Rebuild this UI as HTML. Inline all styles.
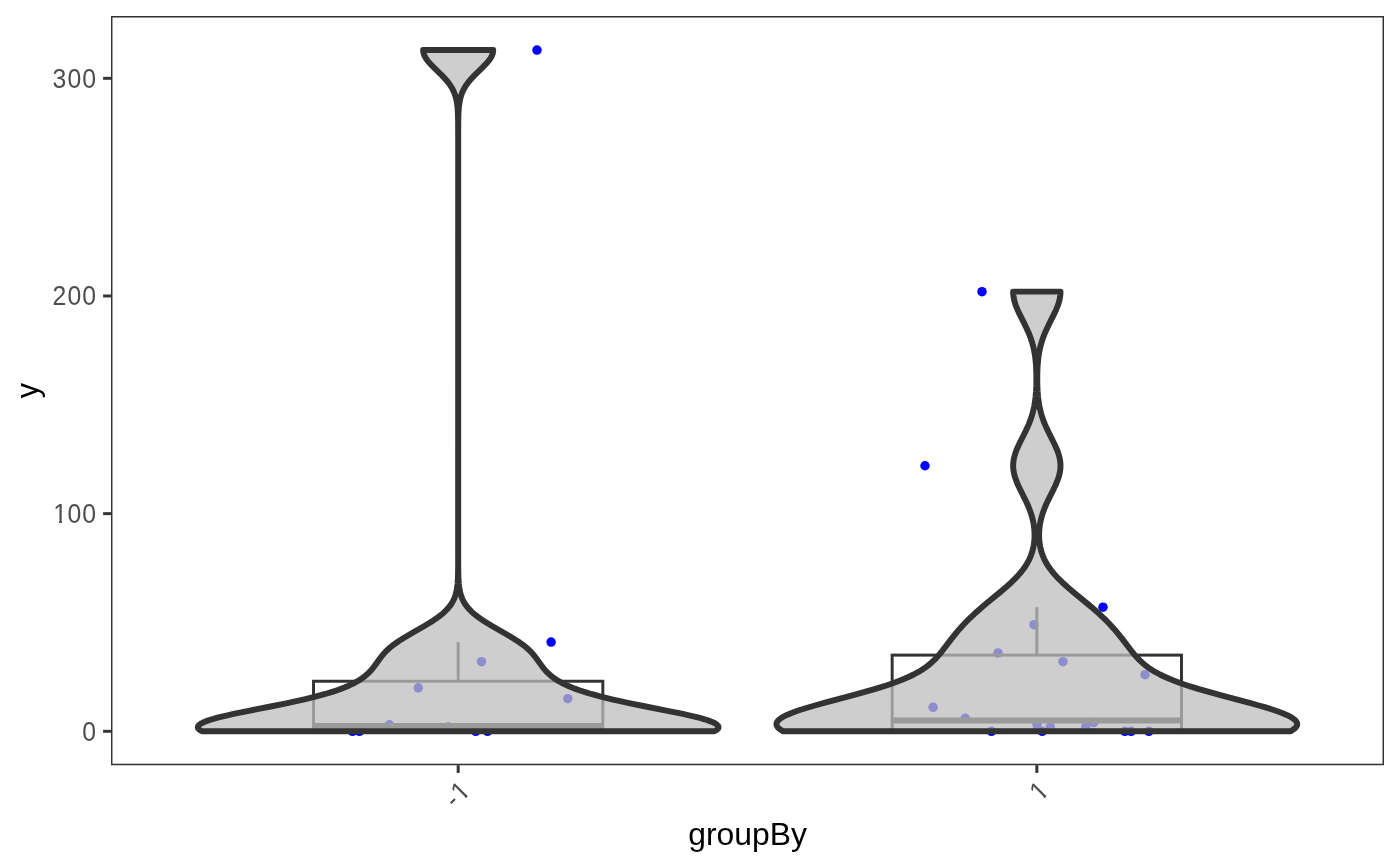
<!DOCTYPE html>
<html><head><meta charset="utf-8"><title>Violin plot: y by groupBy</title>
<style>
html,body{margin:0;padding:0;background:#ffffff;}
body{width:1400px;height:866px;position:relative;overflow:hidden;font-family:"Liberation Sans",sans-serif;}
</style></head><body>
<svg width="1400" height="866" viewBox="0 0 1400 866" style="position:absolute;left:0;top:0;will-change:transform">
<defs><clipPath id="cy100"><path d="M-200,-60 H400 V-2.45 H-200 Z M5.99,-3.45 H8.68 V4 H5.99 Z M14.00,-60 H200.00 V20 H14.00 Z "/></clipPath><clipPath id="cx1"><path d="M-200,-60 H400 V-2.45 H-200 Z M-7.01,-3.45 H-4.31 V4 H-7.01 Z M-100.00,-60 H-13.49 V20 H-100.00 Z "/></clipPath><clipPath id="cx2"><path d="M-200,-60 H400 V-2.45 H-200 Z M-7.01,-3.45 H-4.31 V4 H-7.01 Z M-100.00,-60 H-13.49 V20 H-100.00 Z "/></clipPath></defs>
<defs><clipPath id="pc"><rect x="111.00" y="16.05" width="1273.00" height="749.15"/></clipPath></defs>
<g clip-path="url(#pc)">
<circle cx="537.0" cy="50.02" r="4.75" fill="#0000ff"/>
<circle cx="551.1" cy="642.06" r="4.75" fill="#0000ff"/>
<circle cx="481.5" cy="661.65" r="4.75" fill="#0000ff"/>
<circle cx="418.3" cy="687.77" r="4.75" fill="#0000ff"/>
<circle cx="567.8" cy="698.65" r="4.75" fill="#0000ff"/>
<circle cx="389.4" cy="724.77" r="4.75" fill="#0000ff"/>
<circle cx="448.5" cy="726.95" r="4.75" fill="#0000ff"/>
<circle cx="352.5" cy="731.30" r="4.75" fill="#0000ff"/>
<circle cx="359.4" cy="731.30" r="4.75" fill="#0000ff"/>
<circle cx="475.7" cy="731.30" r="4.75" fill="#0000ff"/>
<circle cx="487.5" cy="731.30" r="4.75" fill="#0000ff"/>
<circle cx="982.0" cy="291.63" r="4.75" fill="#0000ff"/>
<circle cx="925.0" cy="465.75" r="4.75" fill="#0000ff"/>
<circle cx="1103.0" cy="607.23" r="4.75" fill="#0000ff"/>
<circle cx="1034.0" cy="624.65" r="4.75" fill="#0000ff"/>
<circle cx="998.0" cy="652.94" r="4.75" fill="#0000ff"/>
<circle cx="1063.0" cy="661.65" r="4.75" fill="#0000ff"/>
<circle cx="1145.0" cy="674.71" r="4.75" fill="#0000ff"/>
<circle cx="933.1" cy="707.36" r="4.75" fill="#0000ff"/>
<circle cx="965.3" cy="718.24" r="4.75" fill="#0000ff"/>
<circle cx="1037.0" cy="724.77" r="4.75" fill="#0000ff"/>
<circle cx="1050.3" cy="726.95" r="4.75" fill="#0000ff"/>
<circle cx="1085.7" cy="726.95" r="4.75" fill="#0000ff"/>
<circle cx="1093.6" cy="722.59" r="4.75" fill="#0000ff"/>
<circle cx="991.4" cy="731.30" r="4.75" fill="#0000ff"/>
<circle cx="1042.2" cy="731.30" r="4.75" fill="#0000ff"/>
<circle cx="1124.9" cy="731.30" r="4.75" fill="#0000ff"/>
<circle cx="1131.1" cy="731.30" r="4.75" fill="#0000ff"/>
<circle cx="1148.9" cy="731.30" r="4.75" fill="#0000ff"/>
<line x1="458.18" y1="681.24" x2="458.18" y2="642.06" stroke="#333333" stroke-width="2.96"/>
<line x1="458.18" y1="731.30" x2="458.18" y2="731.30" stroke="#333333" stroke-width="2.96"/>
<rect x="313.52" y="681.24" width="289.32" height="50.06" fill="none" stroke="#333333" stroke-width="2.96" stroke-linejoin="miter"/>
<line x1="313.52" y1="725.86" x2="602.84" y2="725.86" stroke="#333333" stroke-width="5.92"/>
<line x1="1036.82" y1="655.12" x2="1036.82" y2="607.23" stroke="#333333" stroke-width="2.96"/>
<line x1="1036.82" y1="730.21" x2="1036.82" y2="731.30" stroke="#333333" stroke-width="2.96"/>
<rect x="892.16" y="655.12" width="289.32" height="75.09" fill="none" stroke="#333333" stroke-width="2.96" stroke-linejoin="miter"/>
<line x1="892.16" y1="720.42" x2="1181.48" y2="720.42" stroke="#333333" stroke-width="5.92"/>
<path d="M201.94,731.30 L199.67,729.97 L198.29,728.63 L197.80,727.30 L198.17,725.97 L199.39,724.63 L201.42,723.30 L204.20,721.97 L207.70,720.63 L211.83,719.30 L216.55,717.97 L221.77,716.63 L227.43,715.30 L233.44,713.97 L246.26,711.30 L273.10,705.97 L286.18,703.30 L298.57,700.64 L304.42,699.30 L315.36,696.64 L325.19,693.97 L329.68,692.64 L333.89,691.30 L337.82,689.97 L341.49,688.64 L344.90,687.30 L348.06,685.97 L350.99,684.64 L353.69,683.30 L356.19,681.97 L358.49,680.64 L360.60,679.30 L362.55,677.97 L364.33,676.64 L365.98,675.30 L368.88,672.64 L371.37,669.97 L373.55,667.31 L375.53,664.64 L380.28,657.97 L382.37,655.31 L383.51,653.97 L385.99,651.31 L387.35,649.97 L390.35,647.31 L391.99,645.97 L393.72,644.64 L397.45,641.97 L399.45,640.64 L403.66,637.97 L410.41,633.97 L424.38,625.98 L428.84,623.31 L433.05,620.64 L436.96,617.98 L438.79,616.64 L442.15,613.98 L443.69,612.64 L445.13,611.31 L447.71,608.64 L448.86,607.31 L450.87,604.64 L451.75,603.31 L453.26,600.64 L454.47,597.98 L455.43,595.31 L456.17,592.65 L456.74,589.98 L457.16,587.31 L457.59,583.31 L457.85,579.31 L458.01,575.31 L458.15,564.65 L458.18,138.02 L458.09,120.68 L457.97,115.35 L457.79,111.35 L457.49,107.35 L457.20,104.69 L456.55,100.69 L455.95,98.02 L455.18,95.35 L454.20,92.69 L453.00,90.02 L452.31,88.69 L450.73,86.02 L449.85,84.69 L447.88,82.02 L445.65,79.36 L441.91,75.36 L433.72,67.36 L431.09,64.69 L428.69,62.02 L427.60,60.69 L426.61,59.36 L425.73,58.02 L424.96,56.69 L424.32,55.36 L423.81,54.02 L423.45,52.69 L423.23,51.36 L423.15,50.02 L493.21,50.02 L493.14,51.36 L492.92,52.69 L492.55,54.02 L492.04,55.36 L491.40,56.69 L490.63,58.02 L489.75,59.36 L488.76,60.69 L487.68,62.02 L485.27,64.69 L482.65,67.36 L474.45,75.36 L470.71,79.36 L468.49,82.02 L466.52,84.69 L465.63,86.02 L464.05,88.69 L463.36,90.02 L462.16,92.69 L461.19,95.35 L460.42,98.02 L459.81,100.69 L459.17,104.69 L458.87,107.35 L458.57,111.35 L458.40,115.35 L458.27,120.68 L458.19,138.02 L458.21,564.65 L458.36,575.31 L458.51,579.31 L458.77,583.31 L459.20,587.31 L459.63,589.98 L460.19,592.65 L460.94,595.31 L461.90,597.98 L463.11,600.64 L464.61,603.31 L465.49,604.64 L467.50,607.31 L468.65,608.64 L471.23,611.31 L472.67,612.64 L474.21,613.98 L477.58,616.64 L479.40,617.98 L483.31,620.64 L487.53,623.31 L491.98,625.98 L505.95,633.97 L512.70,637.97 L516.92,640.64 L518.91,641.97 L522.64,644.64 L524.38,645.97 L526.01,647.31 L529.01,649.97 L530.37,651.31 L532.86,653.97 L533.99,655.31 L536.08,657.97 L540.84,664.64 L542.81,667.31 L544.99,669.97 L547.48,672.64 L550.39,675.30 L552.03,676.64 L553.82,677.97 L555.76,679.30 L557.88,680.64 L560.17,681.97 L562.67,683.30 L565.37,684.64 L568.30,685.97 L571.46,687.30 L574.87,688.64 L578.54,689.97 L582.47,691.30 L586.68,692.64 L591.17,693.97 L601.00,696.64 L611.94,699.30 L617.79,700.64 L630.18,703.30 L643.26,705.97 L670.10,711.30 L682.92,713.97 L688.94,715.30 L694.59,716.63 L699.81,717.97 L704.53,719.30 L708.67,720.63 L712.16,721.97 L714.95,723.30 L716.97,724.63 L718.19,725.97 L718.57,727.30 L718.07,728.63 L716.69,729.97 L714.42,731.30 Z" fill="#bebebe" fill-opacity="0.75" stroke="#333333" stroke-width="5.93" stroke-linejoin="round"/>
<path d="M783.27,731.30 L781.72,730.44 L780.37,729.58 L779.22,728.72 L778.26,727.86 L777.51,727.00 L776.95,726.14 L776.59,725.28 L776.43,724.42 L776.47,723.56 L776.70,722.70 L777.12,721.84 L777.73,720.97 L778.53,720.11 L779.51,719.25 L780.66,718.39 L781.98,717.53 L783.47,716.67 L786.92,714.95 L790.96,713.23 L795.53,711.51 L800.56,709.79 L808.86,707.21 L814.79,705.49 L824.11,702.91 L853.20,695.16 L865.71,691.72 L874.61,689.14 L880.25,687.42 L885.64,685.70 L890.75,683.98 L895.57,682.26 L900.10,680.54 L904.33,678.81 L910.14,676.23 L913.65,674.51 L918.42,671.93 L921.29,670.21 L925.17,667.63 L928.60,665.05 L931.64,662.47 L934.37,659.89 L937.61,656.44 L939.83,653.86 L941.93,651.28 L951.80,638.37 L956.65,632.35 L959.60,628.91 L962.70,625.47 L965.97,622.03 L968.54,619.45 L973.96,614.28 L980.74,608.26 L986.87,603.10 L1000.46,591.91 L1006.50,586.75 L1011.24,582.45 L1015.62,578.15 L1018.05,575.56 L1019.57,573.84 L1021.71,571.26 L1023.04,569.54 L1024.29,567.82 L1026.01,565.24 L1027.06,563.52 L1028.48,560.94 L1029.34,559.22 L1030.48,556.64 L1031.15,554.91 L1032.03,552.33 L1032.54,550.61 L1033.18,548.03 L1033.54,546.31 L1033.97,543.73 L1034.42,539.43 L1034.54,536.85 L1034.56,534.26 L1034.36,529.96 L1034.10,527.38 L1033.75,524.80 L1033.12,521.36 L1032.08,517.06 L1030.76,512.75 L1029.18,508.45 L1027.74,505.01 L1026.17,501.57 L1020.18,489.52 L1018.13,485.22 L1016.65,481.78 L1015.37,478.34 L1014.34,474.90 L1013.61,471.45 L1013.37,469.73 L1013.21,468.01 L1013.14,466.29 L1013.16,464.57 L1013.35,461.99 L1013.58,460.27 L1013.90,458.55 L1014.76,455.11 L1015.90,451.66 L1017.28,448.22 L1018.83,444.78 L1025.68,431.01 L1027.29,427.57 L1028.79,424.13 L1030.16,420.69 L1031.37,417.25 L1032.43,413.81 L1033.33,410.36 L1034.25,406.06 L1034.97,401.76 L1035.60,396.60 L1036.02,391.44 L1036.30,385.41 L1036.40,379.39 L1036.34,373.37 L1036.10,367.34 L1035.88,363.90 L1035.57,360.46 L1035.17,357.02 L1034.65,353.58 L1034.02,350.14 L1033.46,347.55 L1032.81,344.97 L1032.08,342.39 L1031.26,339.81 L1030.36,337.23 L1029.37,334.65 L1027.92,331.21 L1025.10,325.18 L1019.08,313.14 L1017.51,309.70 L1016.10,306.25 L1015.19,303.67 L1014.66,301.95 L1013.83,298.51 L1013.53,296.79 L1013.31,295.07 L1013.18,293.35 L1013.14,291.63 L1060.50,291.63 L1060.45,293.35 L1060.32,295.07 L1060.11,296.79 L1059.81,298.51 L1058.97,301.95 L1058.45,303.67 L1057.53,306.25 L1056.13,309.70 L1054.55,313.14 L1048.54,325.18 L1045.72,331.21 L1044.27,334.65 L1043.28,337.23 L1042.37,339.81 L1041.55,342.39 L1040.82,344.97 L1040.18,347.55 L1039.61,350.14 L1038.98,353.58 L1038.47,357.02 L1038.07,360.46 L1037.76,363.90 L1037.53,367.34 L1037.30,373.37 L1037.24,379.39 L1037.34,385.41 L1037.62,391.44 L1038.04,396.60 L1038.66,401.76 L1039.38,406.06 L1040.31,410.36 L1041.21,413.81 L1042.27,417.25 L1043.48,420.69 L1044.84,424.13 L1046.34,427.57 L1047.96,431.01 L1054.81,444.78 L1056.36,448.22 L1057.74,451.66 L1058.88,455.11 L1059.74,458.55 L1060.06,460.27 L1060.29,461.99 L1060.48,464.57 L1060.49,466.29 L1060.42,468.01 L1060.26,469.73 L1060.02,471.45 L1059.29,474.90 L1058.27,478.34 L1056.99,481.78 L1055.51,485.22 L1053.46,489.52 L1047.47,501.57 L1045.90,505.01 L1044.46,508.45 L1042.88,512.75 L1041.56,517.06 L1040.52,521.36 L1039.89,524.80 L1039.53,527.38 L1039.28,529.96 L1039.08,534.26 L1039.10,536.85 L1039.22,539.43 L1039.67,543.73 L1040.10,546.31 L1040.45,548.03 L1041.10,550.61 L1041.60,552.33 L1042.48,554.91 L1043.16,556.64 L1044.30,559.22 L1045.15,560.94 L1046.58,563.52 L1047.63,565.24 L1049.35,567.82 L1050.60,569.54 L1051.93,571.26 L1054.07,573.84 L1055.59,575.56 L1058.01,578.15 L1062.39,582.45 L1067.13,586.75 L1073.18,591.91 L1086.77,603.10 L1092.89,608.26 L1099.68,614.28 L1105.10,619.45 L1107.66,622.03 L1110.93,625.47 L1114.04,628.91 L1116.99,632.35 L1121.84,638.37 L1131.71,651.28 L1133.80,653.86 L1136.02,656.44 L1139.27,659.89 L1141.99,662.47 L1145.04,665.05 L1148.47,667.63 L1152.35,670.21 L1155.22,671.93 L1159.99,674.51 L1163.50,676.23 L1169.30,678.81 L1173.54,680.54 L1178.06,682.26 L1182.89,683.98 L1188.00,685.70 L1193.38,687.42 L1199.03,689.14 L1207.93,691.72 L1220.44,695.16 L1249.53,702.91 L1258.85,705.49 L1264.78,707.21 L1273.07,709.79 L1278.11,711.51 L1282.68,713.23 L1286.71,714.95 L1290.17,716.67 L1291.65,717.53 L1292.98,718.39 L1294.13,719.25 L1295.11,720.11 L1295.90,720.97 L1296.51,721.84 L1296.94,722.70 L1297.17,723.56 L1297.20,724.42 L1297.04,725.28 L1296.69,726.14 L1296.13,727.00 L1295.37,727.86 L1294.42,728.72 L1293.27,729.58 L1291.92,730.44 L1290.37,731.30 Z" fill="#bebebe" fill-opacity="0.75" stroke="#333333" stroke-width="5.93" stroke-linejoin="round"/>
<rect x="111.00" y="16.05" width="1273.00" height="749.15" fill="none" stroke="#333333" stroke-width="2.96"/>
</g>
<line x1="103.10" y1="731.30" x2="111.00" y2="731.30" stroke="#333333" stroke-width="2.96"/>
<line x1="103.10" y1="513.64" x2="111.00" y2="513.64" stroke="#333333" stroke-width="2.96"/>
<line x1="103.10" y1="295.98" x2="111.00" y2="295.98" stroke="#333333" stroke-width="2.96"/>
<line x1="103.10" y1="78.32" x2="111.00" y2="78.32" stroke="#333333" stroke-width="2.96"/>
<line x1="458.18" y1="765.20" x2="458.18" y2="772.90" stroke="#333333" stroke-width="2.96"/>
<line x1="1036.82" y1="765.20" x2="1036.82" y2="772.90" stroke="#333333" stroke-width="2.96"/>
<g transform="translate(82.30,740.55) scale(1,1.085)"><text x="0.00" y="0" font-size="24.80" fill="#4d4d4d" font-family="Liberation Sans, sans-serif">0</text></g>
<g transform="translate(53.20,522.89) scale(1,1.085)" clip-path="url(#cy100)"><text x="0.00 14.20 29.10" y="0" font-size="24.80" fill="#4d4d4d" font-family="Liberation Sans, sans-serif">100</text></g>
<g transform="translate(52.50,305.23) scale(1,1.085)"><text x="0.00 14.90 29.80" y="0" font-size="24.80" fill="#4d4d4d" font-family="Liberation Sans, sans-serif">200</text></g>
<g transform="translate(52.50,87.57) scale(1,1.085)"><text x="0.00 14.90 29.80" y="0" font-size="24.80" fill="#4d4d4d" font-family="Liberation Sans, sans-serif">300</text></g>
<g transform="translate(470.93,793.10) rotate(-45) scale(1,1.085)" clip-path="url(#cx1)"><text x="-22.65 -12.99" y="0" font-size="24.80" fill="#4d4d4d" font-family="Liberation Sans, sans-serif">-1</text></g>
<g transform="translate(1049.57,793.10) rotate(-45) scale(1,1.085)" clip-path="url(#cx2)"><text x="-12.99" y="0" font-size="24.80" fill="#4d4d4d" font-family="Liberation Sans, sans-serif">1</text></g>
<text transform="translate(747.6,844.7) scale(1.044,1.015)" text-anchor="middle" font-size="30.56" fill="#000000" font-family="Liberation Sans, sans-serif">groupBy</text>
<text transform="translate(38.0,390.5) rotate(-90)" text-anchor="middle" font-size="30.56" fill="#000000" font-family="Liberation Sans, sans-serif">y</text>
</svg>
</body></html>
